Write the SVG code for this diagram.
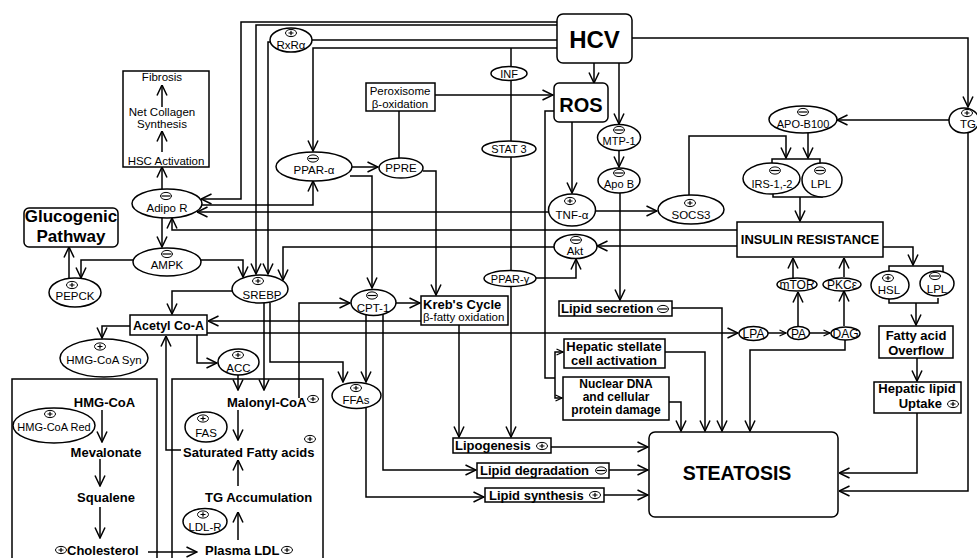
<svg xmlns="http://www.w3.org/2000/svg" width="977" height="558" viewBox="0 0 977 558">
<style>
text{font-family:"Liberation Sans",Arial,sans-serif;fill:#000}
.n{font-size:11.5px;text-anchor:middle}
.s{font-size:11px;text-anchor:middle}
.b{font-size:13px;font-weight:bold;text-anchor:middle}
.bl{font-size:13px;font-weight:bold}
.nd{fill:#fff;stroke:#000;stroke-width:1.5}
.bx{fill:none;stroke:#000;stroke-width:1.5}
.c path{fill:none;stroke:#000;stroke-width:1.5}
</style>
<defs>
<marker id="ah" viewBox="0 0 12 12" refX="11.5" refY="6" markerWidth="12" markerHeight="12" markerUnits="userSpaceOnUse" orient="auto"><path d="M1,1 L11.5,6 L1,11" fill="none" stroke="#000" stroke-width="1.5"/></marker>
<marker id="sm" viewBox="0 0 8 8" refX="7.5" refY="4" markerWidth="8" markerHeight="8" markerUnits="userSpaceOnUse" orient="auto"><path d="M1,1 L7.5,4 L1,7" fill="none" stroke="#000" stroke-width="1.3"/></marker>
<g id="p"><ellipse rx="5.5" ry="3.6" fill="#fff" stroke="#000" stroke-width="1"/><path d="M-2.5,0H2.5M0,-2.2V2.2" stroke="#000" stroke-width="1.2"/></g>
<g id="m"><ellipse rx="5.5" ry="3.6" fill="#fff" stroke="#000" stroke-width="1"/><path d="M-4.5,0H4.5" stroke="#000" stroke-width="1.2"/></g>
</defs>
<rect width="977" height="558" fill="#fff"/>

<g id="fibrosis"><rect class="bx" x="123" y="71" width="86" height="96"/><text class="n" x="162" y="81">Fibrosis</text><text class="n" x="162" y="116">Net Collagen</text><text class="n" x="162" y="128">Synthesis</text><text class="n" x="166" y="165">HSC Activation</text></g>

<g id="connectors" class="c">
<path d="M557,22 H241 V199 H201" marker-end="url(#ah)"/>
<path d="M557,25 H256 V274" marker-end="url(#ah)"/>
<path d="M557,40 H312"/>
<path d="M271,42 H268 V274" marker-end="url(#ah)"/>
<path d="M557,48 H313 V151" marker-end="url(#ah)"/>
<path d="M511,48 V437" marker-end="url(#ah)"/>
<path d="M594,63 V83" marker-end="url(#ah)"/>
<path d="M619,63 V124" marker-end="url(#ah)"/>
<path d="M632,38 H968 V107" marker-end="url(#ah)"/>
<path d="M949,120 H837" marker-end="url(#ah)"/>
<path d="M968,133 V491 H839" marker-end="url(#ah)"/>
<path d="M435,95 H553" marker-end="url(#ah)"/>
<path d="M399,111 V158"/>
<path d="M352,167 H378" marker-end="url(#ah)"/>
<path d="M423,171 H436 V295" marker-end="url(#ah)"/>
<path d="M350,176 H372 V288" marker-end="url(#ah)"/>
<path d="M202,205 H313 V181" marker-end="url(#ah)"/>
<path d="M549,212 H197" marker-end="url(#ah)"/>
<path d="M737,230 H172 V218" marker-end="url(#ah)"/>
<path d="M554,247 H283 V280" marker-end="url(#ah)"/>
<path d="M737,246 H597" marker-end="url(#ah)"/>
<path d="M162,218 V247" marker-end="url(#ah)"/>
<path d="M201,260 H243 V277" marker-end="url(#ah)"/>
<path d="M133,260 H81 V278" marker-end="url(#ah)"/>
<path d="M69,279 V247" marker-end="url(#ah)"/>
<path d="M162,189 V167" marker-end="url(#ah)"/>
<path d="M162,152 V131" marker-end="url(#ah)"/>
<path d="M162,107 V85" marker-end="url(#ah)"/>
<path d="M232,291 H172 V314" marker-end="url(#ah)"/>
<path d="M130,326 H102 V338" marker-end="url(#ah)"/>
<path d="M197,335 V363 H217" marker-end="url(#ah)"/>
<path d="M421,321 H208" marker-end="url(#ah)"/>
<path d="M207,333 H738" marker-end="url(#ah)"/>
<path d="M181,450 H166 V336" marker-end="url(#ah)"/>
<path d="M264,303 V390" marker-end="url(#ah)"/>
<path d="M270,303 V362 H343 V382" marker-end="url(#ah)"/>
<path d="M238,375 V390" marker-end="url(#ah)"/>
<path d="M299,398 V303 H350" marker-end="url(#ah)"/>
<path d="M396,303 H420" marker-end="url(#ah)"/>
<path d="M366,313 V382" marker-end="url(#ah)"/>
<path d="M383,313 V470 H476" marker-end="url(#ah)"/>
<path d="M366,408 V497 H484" marker-end="url(#ah)"/>
<path d="M459,325 V437" marker-end="url(#ah)"/>
<path d="M551,447 H648" marker-end="url(#ah)"/>
<path d="M609,470 H648" marker-end="url(#ah)"/>
<path d="M604,495 H648" marker-end="url(#ah)"/>
<path d="M554,111 H545 V378 H555"/>
<path d="M555,378 V398 H562" marker-end="url(#sm)"/>
<path d="M555,378 V352 H563" marker-end="url(#sm)"/>
<path d="M572,122 V193" marker-end="url(#ah)"/>
<path d="M619,150 V167" marker-end="url(#ah)"/>
<path d="M620,193 V300" marker-end="url(#ah)"/>
<path d="M596,211 H657" marker-end="url(#ah)"/>
<path d="M536,278 H576 V259" marker-end="url(#ah)"/>
<path d="M689,195 V136 H786 V158" marker-end="url(#ah)"/>
<path d="M808,133 V158" marker-end="url(#ah)"/>
<path d="M800,197 V221" marker-end="url(#ah)"/>
<path d="M883,247 H913 V265" marker-end="url(#ah)"/>
<path d="M916,303 V325" marker-end="url(#ah)"/>
<path d="M917,358 V381" marker-end="url(#ah)"/>
<path d="M917,413 V473 H839" marker-end="url(#ah)"/>
<path d="M672,308 H722 V431" marker-end="url(#ah)"/>
<path d="M665,352 H705 V431" marker-end="url(#ah)"/>
<path d="M669,402 H681 V431" marker-end="url(#ah)"/>
<path d="M845,340 V350 H750 V431" marker-end="url(#ah)"/>
<path d="M768,333 H786" marker-end="url(#sm)"/>
<path d="M809,333 H830" marker-end="url(#sm)"/>
<path d="M798,326 V292" marker-end="url(#ah)"/>
<path d="M844,326 V291" marker-end="url(#ah)"/>
<path d="M793,278 V258" marker-end="url(#ah)"/>
<path d="M844,277 V258" marker-end="url(#ah)"/>
<path d="M102,410 V442" marker-end="url(#ah)"/>
<path d="M100,459 V486" marker-end="url(#ah)"/>
<path d="M100,507 V538" marker-end="url(#ah)"/>
<path d="M148,552 H197" marker-end="url(#ah)"/>
<path d="M238,410 V440" marker-end="url(#ah)"/>
<path d="M238,486 V460" marker-end="url(#ah)"/>
<path d="M238,540 V512" marker-end="url(#ah)"/>
<path d="M772,164 V159 H820 V164"/>
<path d="M773,193 V197 H822 V193"/>
<path d="M889,272 V266 H943 V272"/>
<path d="M889,298 V303 H938 V298"/>
</g>

<g id="hcv"><rect class="nd" x="557" y="14" width="75" height="49" rx="6"/><text x="594.5" y="48" style="font-size:24px;font-weight:bold;text-anchor:middle">HCV</text></g>
<g id="ros"><rect class="nd" x="554" y="83" width="54" height="39" rx="5"/><text x="581" y="112" style="font-size:20px;font-weight:bold;text-anchor:middle">ROS</text></g>
<g id="rxra"><ellipse class="nd" cx="291" cy="40" rx="21" ry="12"/><use href="#p" x="291" y="33"/><text class="n" x="291" y="49">RxRα</text></g>
<g id="adipor"><ellipse class="nd" cx="167" cy="203.5" rx="35" ry="14.5"/><use href="#m" x="166" y="196"/><text class="n" x="167" y="211.5">Adipo R</text></g>
<g id="glucogenic"><rect class="nd" x="24" y="208" width="94" height="39" rx="5"/><text x="71" y="222" style="font-size:17px;font-weight:bold;text-anchor:middle">Glucogenic</text><text x="71" y="242" style="font-size:17px;font-weight:bold;text-anchor:middle">Pathway</text></g>
<g id="ampk"><ellipse class="nd" cx="167" cy="262" rx="34" ry="14"/><use href="#m" x="167" y="254"/><text class="n" x="167" y="268.5">AMPK</text></g>
<g id="pepck"><ellipse class="nd" cx="75" cy="292.5" rx="26" ry="14.5"/><use href="#p" x="72" y="285"/><text class="n" x="75" y="300">PEPCK</text></g>
<g id="srebp"><ellipse class="nd" cx="260" cy="289" rx="28" ry="14"/><use href="#p" x="258" y="281"/><text class="n" x="262" y="299">SREBP</text></g>
<g id="ppara"><ellipse class="nd" cx="314" cy="166.5" rx="38" ry="14.5"/><use href="#m" x="313" y="158.5"/><text class="n" x="314" y="174">PPAR-α</text></g>
<g id="ppre"><ellipse class="nd" cx="401" cy="168" rx="22" ry="10"/><text class="n" x="401" y="172">PPRE</text></g>
<g id="peroxisome"><rect class="nd" x="366" y="83" width="69" height="28"/><text class="n" x="400" y="95">Peroxisome</text><text class="n" x="400" y="107.5">β-oxidation</text></g>
<g id="inf"><ellipse class="nd" cx="509" cy="73.5" rx="18" ry="7"/><text class="s" x="509" y="77.5">INF</text></g>
<g id="stat3"><ellipse class="nd" cx="509" cy="149" rx="27" ry="8"/><text class="s" x="509" y="153">STAT 3</text></g>
<g id="pparg"><ellipse class="nd" cx="510" cy="278.5" rx="26" ry="8"/><text class="s" x="510" y="282.5">PPAR-γ</text></g>
<g id="mtp1"><ellipse class="nd" cx="619" cy="137.5" rx="21.5" ry="13"/><use href="#m" x="619" y="130"/><text class="s" x="619" y="145">MTP-1</text></g>
<g id="apob"><ellipse class="nd" cx="619" cy="180.5" rx="21" ry="12.5"/><use href="#m" x="619" y="173"/><text class="s" x="619" y="188">Apo B</text></g>
<g id="tnfa"><ellipse class="nd" cx="572" cy="210" rx="23.5" ry="16"/><use href="#p" x="570" y="201"/><text class="n" x="572" y="218.5">TNF-α</text></g>
<g id="socs3"><ellipse class="nd" cx="691" cy="209.5" rx="33" ry="14.5"/><use href="#p" x="690" y="203"/><text class="n" x="691" y="218.5">SOCS3</text></g>
<g id="akt"><ellipse class="nd" cx="575.5" cy="246.5" rx="21.5" ry="12"/><use href="#m" x="576" y="240"/><text class="n" x="575" y="255">Akt</text></g>
<g id="apob100"><ellipse class="nd" cx="803" cy="119.5" rx="34" ry="13.5"/><use href="#m" x="803" y="112"/><text class="s" x="803" y="127.5">APO-B100</text></g>
<g id="tg"><ellipse class="nd" cx="964" cy="120.5" rx="15" ry="12.5"/><use href="#p" x="967" y="113"/><text class="n" x="968" y="128">TG</text></g>
<g id="irs"><ellipse class="nd" cx="771.5" cy="178.5" rx="28.5" ry="15.5"/><use href="#m" x="775" y="170.5"/><text class="s" x="772" y="187.5">IRS-1,-2</text></g>
<g id="lpl1"><ellipse class="nd" cx="822" cy="180" rx="20" ry="17"/><use href="#m" x="820" y="170.5"/><text class="n" x="821" y="188">LPL</text></g>
<g id="insulin"><rect class="nd" x="737" y="222" width="146" height="35"/><text class="b" x="810" y="244">INSULIN RESISTANCE</text></g>
<g id="hsl"><ellipse class="nd" cx="890" cy="285" rx="19" ry="14"/><use href="#p" x="888" y="278"/><text class="n" x="889" y="294">HSL</text></g>
<g id="lpl2"><ellipse class="nd" cx="937" cy="283.5" rx="17" ry="12.5"/><use href="#m" x="935" y="276"/><text class="n" x="937" y="292.5">LPL</text></g>
<g id="fattyacid"><rect class="nd" x="879" y="326" width="74" height="32"/><text class="b" x="916" y="340">Fatty acid</text><text class="b" x="916" y="355">Overflow</text></g>
<g id="hepaticlipid"><rect class="nd" x="874" y="382" width="87" height="31"/><text class="b" x="917" y="393">Hepatic lipid</text><text class="bl" x="942" y="408" style="text-anchor:end">Uptake</text><use href="#p" x="953" y="404"/></g>
<g id="steatosis"><rect class="nd" x="649" y="432" width="189" height="85" rx="6"/><text x="737" y="480" style="font-size:19.5px;font-weight:bold;text-anchor:middle">STEATOSIS</text></g>
<g id="lipidsecretion"><rect class="nd" x="559" y="301" width="113" height="15"/><text class="bl" x="561" y="313">Lipid secretion</text><use href="#m" x="663" y="309"/></g>
<g id="hepaticstellate"><rect class="nd" x="564" y="339" width="101" height="29"/><text class="b" x="614" y="351">Hepatic stellate</text><text class="b" x="614" y="365">cell activation</text></g>
<g id="nucleardna"><rect class="nd" x="563" y="377" width="106" height="43"/><text class="b" x="616" y="387.5" style="font-size:12px">Nuclear DNA</text><text class="b" x="616" y="400.5" style="font-size:12px">and cellular</text><text class="b" x="616" y="413.5" style="font-size:12px">protein damage</text></g>
<g id="lipogenesis"><rect class="nd" x="453" y="438" width="98" height="15"/><text class="bl" x="455" y="450">Lipogenesis</text><use href="#p" x="542" y="446"/></g>
<g id="lipiddegradation"><rect class="nd" x="477" y="463" width="132" height="15"/><text class="bl" x="480" y="475">Lipid degradation</text><use href="#m" x="601" y="470.5"/></g>
<g id="lipidsynthesis"><rect class="nd" x="485" y="488" width="119" height="14"/><text class="bl" x="489" y="499.5">Lipid synthesis</text><use href="#p" x="595" y="495"/></g>
<g id="krebs"><rect class="nd" x="421" y="296" width="87" height="29"/><text class="bl" x="423" y="308.5">Kreb's Cycle</text><text x="423" y="321" style="font-size:11.5px">β-fatty oxidation</text></g>
<g id="cpt1"><ellipse class="nd" cx="373.5" cy="302.5" rx="22.5" ry="13"/><use href="#m" x="372" y="295.5"/><text class="n" x="373" y="311.5">CPT-1</text></g>
<g id="ffas"><ellipse class="nd" cx="356.5" cy="395.5" rx="24.5" ry="13"/><use href="#p" x="356" y="388"/><text class="n" x="356" y="404">FFAs</text></g>
<g id="acetylcoa"><rect class="nd" x="130" y="315" width="77" height="20"/><text x="168.5" y="330" style="font-size:12.5px;font-weight:bold;text-anchor:middle">Acetyl Co-A</text></g>
<g id="hmgcoasyn"><ellipse class="nd" cx="104" cy="358" rx="44" ry="19"/><use href="#p" x="100" y="346.5"/><text class="n" x="104" y="364">HMG-CoA Syn</text></g>
<g id="acc"><ellipse class="nd" cx="238.5" cy="362" rx="20.5" ry="13"/><use href="#p" x="238" y="355"/><text class="n" x="238.5" y="372">ACC</text></g>
<g id="lpa"><ellipse class="nd" cx="753.5" cy="333.5" rx="14.5" ry="7"/><text x="753.5" y="338" style="font-size:12px;text-anchor:middle">LPA</text></g>
<g id="pa"><ellipse class="nd" cx="798.5" cy="333" rx="11" ry="6.5"/><text x="798.5" y="337.5" style="font-size:12px;text-anchor:middle">PA</text></g>
<g id="dag"><ellipse class="nd" cx="845.5" cy="333.5" rx="14.5" ry="6.5"/><text x="845.5" y="338" style="font-size:12px;text-anchor:middle">DAG</text></g>
<g id="mtor"><ellipse class="nd" cx="797" cy="284.5" rx="20" ry="6.5"/><text x="797" y="289" style="font-size:12px;text-anchor:middle">mTOR</text></g>
<g id="pkce"><ellipse class="nd" cx="842" cy="284.5" rx="19" ry="6.5"/><text x="842" y="289" style="font-size:12px;text-anchor:middle">PKCε</text></g>
<g id="cholesterolbox"><rect class="bx" x="12" y="379" width="145" height="230"/>
<text class="b" x="104.5" y="407">HMG-CoA</text><text class="b" x="106" y="457">Mevalonate</text><text class="b" x="106" y="502">Squalene</text><use href="#p" x="61" y="550"/><text class="bl" x="67" y="555">Cholesterol</text></g>
<g id="hmgcoared"><ellipse class="nd" cx="54" cy="425.5" rx="41" ry="17.5"/><use href="#p" x="50" y="414"/><text class="s" x="54" y="431">HMG-CoA Red</text></g>
<g id="fattyacidbox"><rect class="bx" x="172" y="379" width="151" height="230"/>
<text class="bl" x="227" y="407">Malonyl-CoA</text><use href="#p" x="313" y="399"/>
<text class="bl" x="183" y="457">Saturated Fatty acids</text><use href="#p" x="310" y="439"/>
<text class="bl" x="205" y="502">TG Accumulation</text>
<text class="bl" x="205" y="555">Plasma LDL</text><use href="#p" x="287" y="550"/></g>
<g id="fas"><ellipse class="nd" cx="206" cy="427" rx="21" ry="15"/><use href="#p" x="203" y="418.5"/><text class="n" x="206" y="436.5">FAS</text></g>
<g id="ldlr"><ellipse class="nd" cx="205" cy="521.5" rx="22" ry="13"/><use href="#p" x="203" y="514.5"/><text class="n" x="205" y="530.5">LDL-R</text></g>
</svg>
